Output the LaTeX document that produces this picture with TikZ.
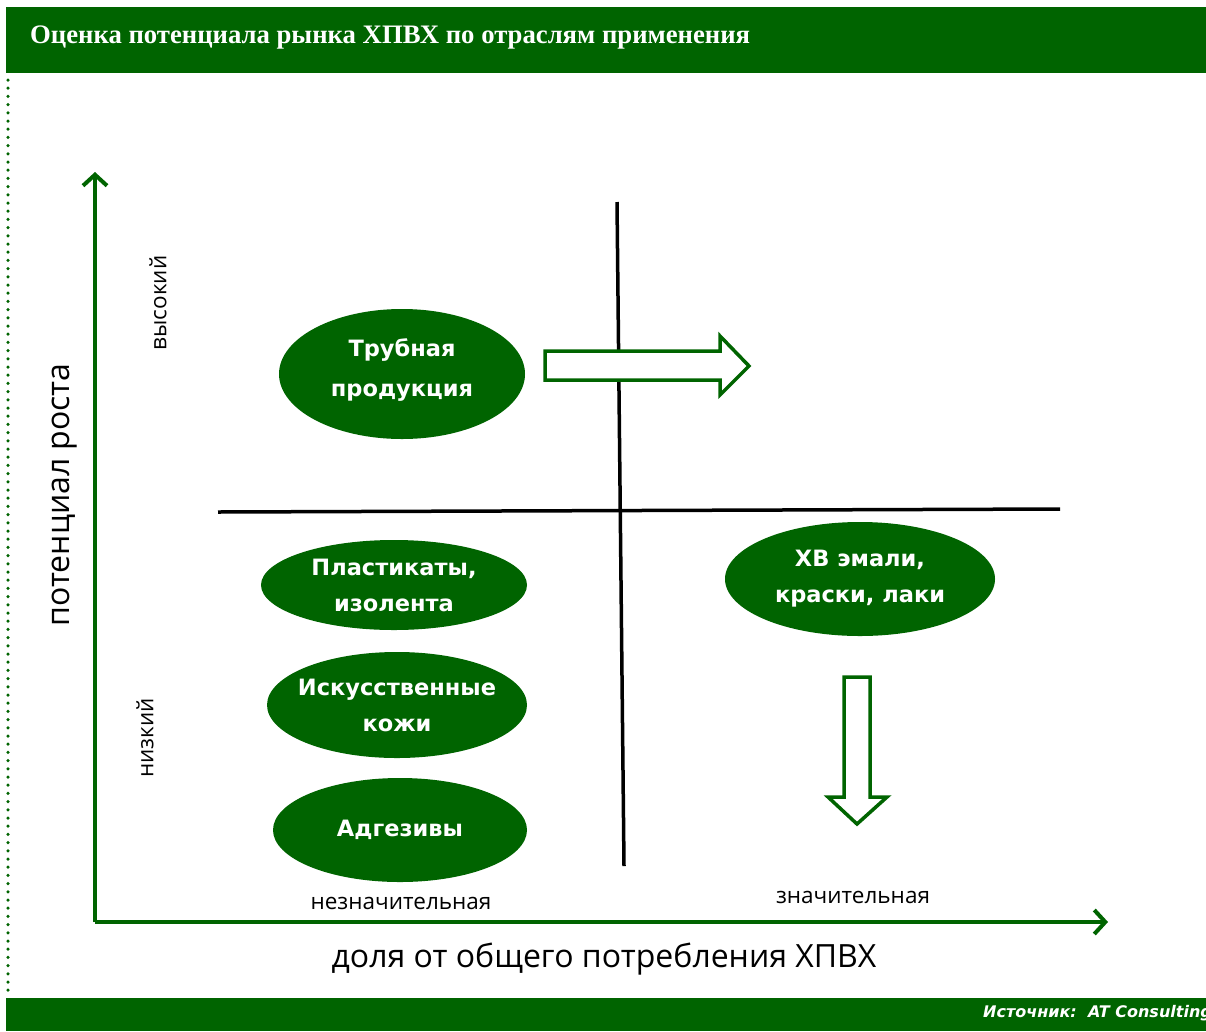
\documentclass[tikz,border=0pt]{standalone}
\usepackage{fontspec}
\usetikzlibrary{arrows.meta,shapes.geometric}
\newfontfamily\hdrfont{Liberation Serif}
\newfontfamily\lblfont{Open Sans}
\newfontfamily\boxfont{DejaVu Sans}
\definecolor{dg}{HTML}{006400}
\tikzset{
  oval/.style={ellipse, fill=dg, inner sep=0pt},
  ovaltext/.style={text=white, align=center, inner sep=0pt,
    font=\boxfont\bfseries\fontsize{22.5}{36}\selectfont},
  axis/.style={draw=dg, line width=4pt, -{Straight Barb[length=11pt,width=24pt]}},
  divider/.style={draw=black, line width=3.5pt},
  blockarrow/.style={draw=dg, line width=3.5pt, fill=white, line join=miter},
  small/.style={font=\lblfont\fontsize{22.5}{26}\selectfont, text=black},
  big/.style={font=\lblfont\fontsize{32}{38}\selectfont, text=black},
}
\begin{document}
\begin{tikzpicture}[x=1pt,y=-1pt]
\useasboundingbox (0,0) rectangle (1206,1031);
\fill[white] (0,0) rectangle (1206,1031);
% header
\fill[dg] (6,7) rectangle (1206,73);
\node[anchor=west, text=white, font=\hdrfont\bfseries\fontsize{26.7}{30}\selectfont, inner sep=0pt] (title) at (30,38) {Оценка потенциала рынка ХПВХ по отраслям применения};
% dotted left border
\draw[dg, line width=3.5pt, line cap=round, dash pattern=on 0pt off 8.2pt] (8,80) -- (8,994);
% footer
\fill[dg] (6,998) rectangle (1206,1031);
\node[anchor=west, text=white, font=\boxfont\bfseries\itshape\fontsize{16}{18}\selectfont, inner sep=0pt] (src) at (983,1013) {Источник:\ \ AT Consulting};
% axes
\coordinate (O) at (95,922);
\coordinate (ytop) at (95,172);
\coordinate (xend) at (1108,922);
\draw[axis] (O) -- (ytop);
\draw[axis] (O) -- (xend);
% dividers
\coordinate (v1) at (617,202);
\coordinate (v2) at (624,866);
\coordinate (h1) at (218,512);
\coordinate (h2) at (1060,509);
\draw[divider] (v1) -- (v2);
\draw[divider] (h1) -- (h2);
% ovals
\node[oval, minimum width=246pt, minimum height=130pt] (tube) at (402,374) {};
\node[ovaltext, font=\boxfont\bfseries\fontsize{22.5}{40}\selectfont] (tubet) at (402,370) {Трубная\\продукция};
\node[oval, minimum width=266pt, minimum height=90pt] (plast) at (394,585) {};
\node[ovaltext] (plastt) at (plast) {Пластикаты,\\изолента};
\node[oval, minimum width=260pt, minimum height=106pt] (leather) at (397,705) {};
\node[ovaltext] (leathert) at (leather) {Искусственные\\кожи};
\node[oval, minimum width=254pt, minimum height=104pt] (adh) at (400,830) {};
\node[ovaltext] (adht) at (adh) {Адгезивы};
\node[oval, minimum width=270pt, minimum height=114pt] (paint) at (860,579) {};
\node[ovaltext] (paintt) at (paint) {ХВ эмали,\\краски, лаки};
% block arrows
\draw[blockarrow] (545,351) -- (720,351) -- (720,336) -- (749,366) -- (720,395) -- (720,380) -- (545,380) -- cycle;
\draw[blockarrow] (844,677) -- (870,677) -- (870,797) -- (887,797) -- (857,824) -- (828,797) -- (844,797) -- cycle;
% labels
\node[small, rotate=90] (high) at (158,303) {высокий};
\node[small, rotate=90] (low) at (145,738) {низкий};
\node[big, rotate=90] (ylab) at (65,495) {потенциал роста};
\node[small] (insig) at (401,903) {незначительная};
\node[small] (sig) at (853,897) {значительная};
\node[big] (xlab) at (604,959) {доля от общего потребления ХПВХ};
\end{tikzpicture}
\end{document}
